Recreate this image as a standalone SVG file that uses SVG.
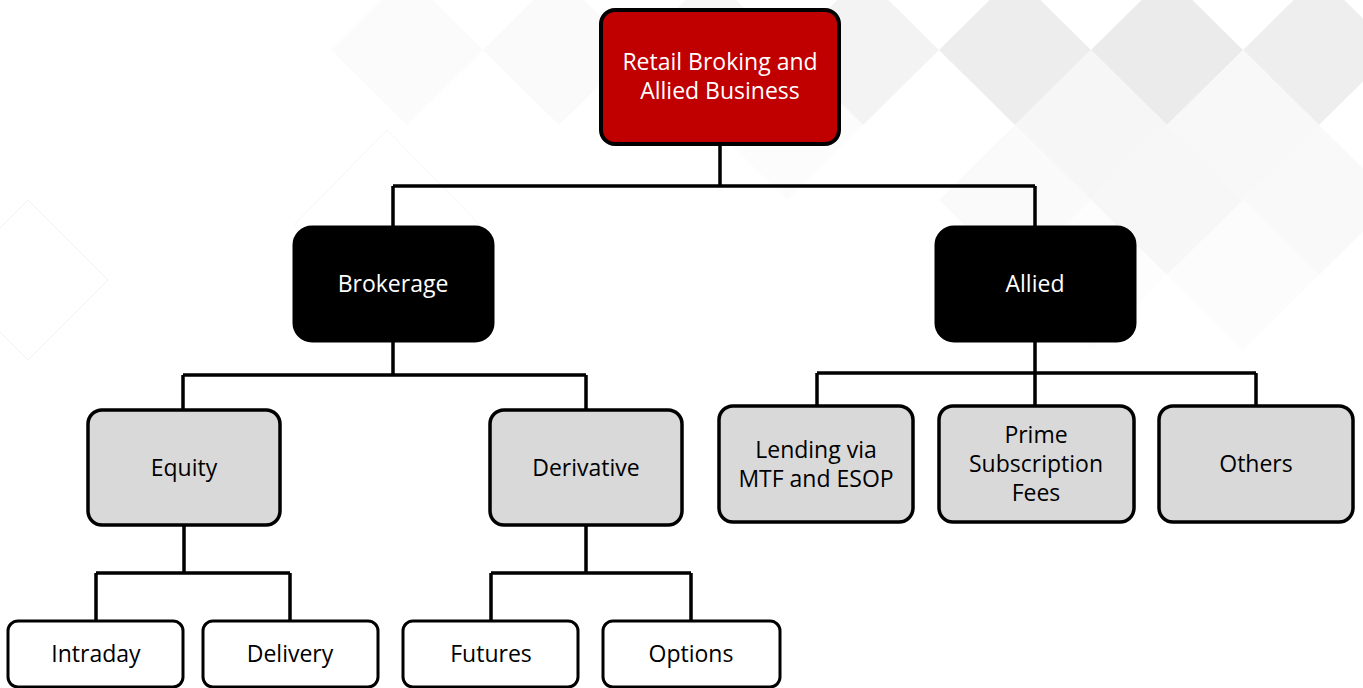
<svg xmlns="http://www.w3.org/2000/svg" width="1363" height="688" viewBox="0 0 1363 688">
<defs>
<style>
.bg{stroke:none}
.root{fill:#C00000;stroke:#000;stroke-width:4}
.lvl1{fill:#000;stroke:#000;stroke-width:3}
.lvl2{fill:#D9D9D9;stroke:#000;stroke-width:3.5}
.leaf{fill:#FFF;stroke:#000;stroke-width:3}
.conn{fill:none;stroke:#000;stroke-width:3.5}
text{font-family:"Open Sans","Liberation Sans",sans-serif;font-size:23px;text-anchor:middle}
.w{fill:#FFF}
.k{fill:#000}
</style>
</defs>
<rect width="1363" height="688" fill="#FFFFFF"/>
<g id="background">
<polygon class="bg" fill="#FBFBFB" points="407,-25 483,50 407,125 331,50"/>
<polygon class="bg" fill="#FAFAFA" points="559,-25 635,50 559,125 483,50"/>
<polygon class="bg" fill="#F7F7F7" points="711,-25 787,50 711,125 635,50"/>
<polygon class="bg" fill="#F3F3F3" points="863,-25 939,50 863,125 787,50"/>
<polygon class="bg" fill="#EDEDED" points="1015,-25 1091,50 1015,125 939,50"/>
<polygon class="bg" fill="#EBEBEB" points="1167,-25 1243,50 1167,125 1091,50"/>
<polygon class="bg" fill="#EEEEEE" points="1319,-25 1395,50 1319,125 1243,50"/>
<polygon class="bg" fill="#FCFCFC" points="787,50 863,125 787,200 711,125"/>
<polygon class="bg" fill="#F6F6F6" points="1091,50 1167,125 1091,200 1015,125"/>
<polygon class="bg" fill="#F8F8F8" points="1243,50 1319,125 1243,200 1167,125"/>
<polygon class="bg" fill="#FAFAFA" points="1015,125 1091,200 1015,275 939,200"/>
<polygon class="bg" fill="#F7F7F7" points="1167,125 1243,200 1167,275 1091,200"/>
<polygon class="bg" fill="#F9F9F9" points="1319,125 1395,200 1319,275 1243,200"/>
<polygon class="bg" fill="#FCFCFC" points="1243,200 1319,275 1243,350 1167,275"/>
<polygon class="bg" fill="#FDFDFD" points="1091,200 1167,275 1091,350 1015,275"/>
<polygon fill="none" stroke="#F3F3F3" stroke-width="1" points="28,200 108,280 28,360 -52,280"/>
<polygon fill="none" stroke="#F6F6F6" stroke-width="1" points="387,130 480,225 387,320 294,225"/>
</g>
<g id="connectors">
<path class="conn" d="M720,144 V186 M393,186 H1035 M393,186 V227 M1035,186 V227"/>
<path class="conn" d="M393,341 V375 M183,375 H586 M183,375 V410 M586,375 V410"/>
<path class="conn" d="M1035,341 V373 M817,373 H1256 M817,373 V406 M1035,373 V406 M1256,373 V406"/>
<path class="conn" d="M184,525 V573 M96,573 H290 M96,573 V621 M290,573 V621"/>
<path class="conn" d="M586,525 V573 M491,573 H691 M491,573 V621 M691,573 V621"/>
</g>
<g id="node-root">
<rect class="root" x="601" y="10" width="238" height="134" rx="14"/>
<text class="w" x="720" y="70">Retail Broking and</text>
<text class="w" x="720" y="99">Allied Business</text>
</g>
<g id="node-brokerage">
<rect class="lvl1" x="294" y="227" width="199" height="114" rx="18"/>
<text class="w" x="393" y="292">Brokerage</text>
</g>
<g id="node-allied">
<rect class="lvl1" x="936" y="227" width="199" height="114" rx="18"/>
<text class="w" x="1035" y="292">Allied</text>
</g>
<g id="node-equity">
<rect class="lvl2" x="88" y="410" width="192" height="115" rx="14"/>
<text class="k" x="184" y="476">Equity</text>
</g>
<g id="node-derivative">
<rect class="lvl2" x="490" y="410" width="192" height="115" rx="14"/>
<text class="k" x="586" y="476">Derivative</text>
</g>
<g id="node-lending">
<rect class="lvl2" x="719" y="406" width="194" height="116" rx="14"/>
<text class="k" x="816" y="458">Lending via</text>
<text class="k" x="816" y="487">MTF and ESOP</text>
</g>
<g id="node-prime">
<rect class="lvl2" x="939" y="406" width="195" height="116" rx="14"/>
<text class="k" x="1036" y="443">Prime</text>
<text class="k" x="1036" y="472">Subscription</text>
<text class="k" x="1036" y="501">Fees</text>
</g>
<g id="node-others">
<rect class="lvl2" x="1159" y="406" width="194" height="116" rx="14"/>
<text class="k" x="1256" y="472">Others</text>
</g>
<g id="node-intraday">
<rect class="leaf" x="8" y="621" width="175" height="66" rx="10"/>
<text class="k" x="96" y="662">Intraday</text>
</g>
<g id="node-delivery">
<rect class="leaf" x="203" y="621" width="175" height="66" rx="10"/>
<text class="k" x="290" y="662">Delivery</text>
</g>
<g id="node-futures">
<rect class="leaf" x="403" y="621" width="175" height="66" rx="10"/>
<text class="k" x="491" y="662">Futures</text>
</g>
<g id="node-options">
<rect class="leaf" x="603" y="621" width="177" height="66" rx="10"/>
<text class="k" x="691" y="662">Options</text>
</g>
</svg>
